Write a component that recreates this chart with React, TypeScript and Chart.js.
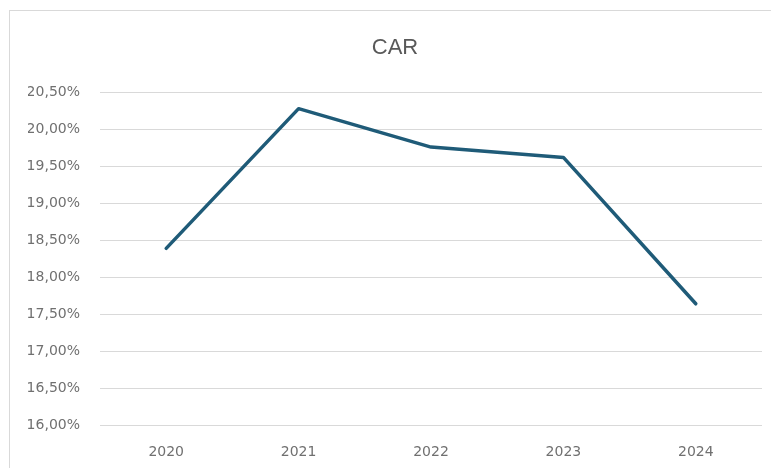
import React, { useEffect, useRef } from "react";
import { Chart, registerables } from "chart.js";

Chart.register(...registerables);

const categories = ["2020", "2021", "2022", "2023", "2024"];
const carValues = [18.39, 20.28, 19.76, 19.62, 17.64];
const yMin = 16;
const yMax = 20.5;
const yStep = 0.5;
const chartTitle = "CAR";

const fmt = (v: number) => v.toFixed(2).replace(".", ",") + "%";

export default function App() {
  const ref = useRef<HTMLCanvasElement | null>(null);

  useEffect(() => {
    if (!ref.current) return;
    const chart = new Chart(ref.current, {
      type: "line",
      data: {
        labels: categories,
        datasets: [
          {
            label: chartTitle,
            data: carValues,
            borderColor: "#1f5b78",
            backgroundColor: "#1f5b78",
            borderWidth: 3.5,
            pointRadius: 0,
            pointHoverRadius: 0,
            tension: 0,
            borderJoinStyle: "round",
            borderCapStyle: "round",
          },
        ],
      },
      options: {
        responsive: false,
        animation: false,
        layout: { padding: { left: 18, right: 18, top: 0, bottom: 0 } },
        plugins: {
          legend: { display: false },
          tooltip: { enabled: false },
          title: {
            display: true,
            text: chartTitle,
            color: "#595959",
            font: { family: "'Liberation Sans', Arial, sans-serif", size: 22, weight: "normal" },
            padding: { top: 24, bottom: 31 },
          },
        },
        scales: {
          x: {
            offset: true,
            grid: { display: false, drawTicks: false, offset: true },
            border: { display: false },
            ticks: {
              color: "#707070",
              font: { family: "'DejaVu Sans', sans-serif", size: 14 },
              padding: 19,
            },
            afterFit: (scale: any) => {
              scale.height = 64;
            },
          },
          y: {
            min: yMin,
            max: yMax,
            grid: { color: "#d9d9d9", lineWidth: 1, drawTicks: false },
            border: { display: false },
            ticks: {
              stepSize: yStep,
              color: "#707070",
              font: { family: "'DejaVu Sans', sans-serif", size: 14 },
              padding: 20,
              callback: (v: any) => fmt(Number(v)),
            },
            afterFit: (scale: any) => {
              scale.width = 72;
            },
          },
        },
      },
    });
    return () => chart.destroy();
  }, []);

  return (
    <div
      style={{
        position: "fixed",
        left: 0,
        top: 0,
        width: 771,
        height: 468,
        overflow: "hidden",
        background: "#ffffff",
      }}
    >
      <div
        style={{
          position: "absolute",
          left: 9,
          top: 10,
          width: 772,
          height: 480,
          border: "1px solid #d9d9d9",
          boxSizing: "border-box",
          background: "#ffffff",
        }}
      >
        <canvas ref={ref} width={770} height={478} style={{ display: "block" }} />
      </div>
    </div>
  );
}
